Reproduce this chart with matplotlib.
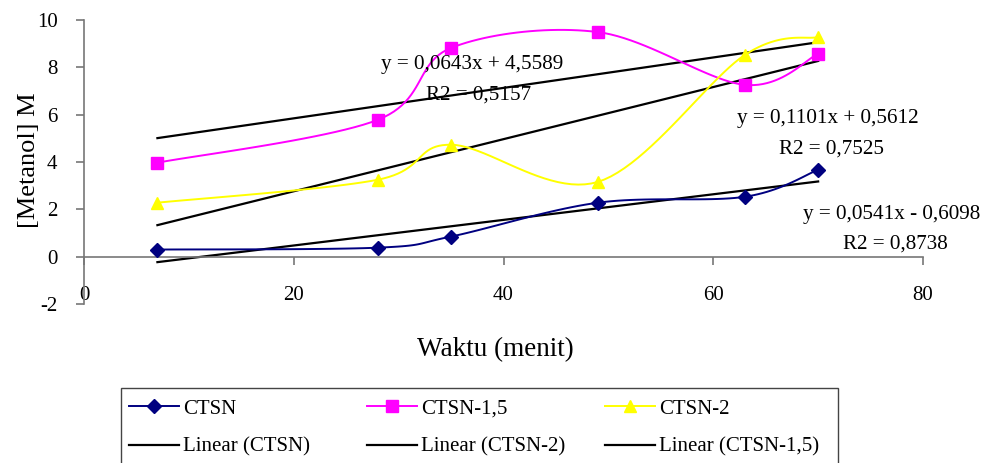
import matplotlib
matplotlib.use("Agg")
import matplotlib.pyplot as plt
import numpy as np
from matplotlib.patches import Rectangle

plt.rcParams["font.family"] = ["Liberation Serif", "DejaVu Serif"]
plt.rcParams["axes.unicode_minus"] = False

# sampling times (menit)
waktu = [7, 28, 35, 49, 63, 70]

ctsn = [0.30, 0.38, 0.85, 2.28, 2.53, 3.67]
ctsn_15 = [3.97, 5.78, 8.82, 9.49, 7.26, 8.57]
ctsn_2 = [2.28, 3.25, 4.73, 3.16, 8.52, 9.28]

# trendline coefficients (slope, intercept, R2) as printed on the chart
fit_ctsn = (0.0541, -0.6098, "0,8738")
fit_ctsn_2 = (0.1101, 0.5612, "0,7525")
fit_ctsn_15 = (0.0643, 4.5589, "0,5157")


def smooth(xs, ys, n=24):
    """Excel-style smoothed line (Catmull-Rom as cubic Bezier)."""
    p = np.column_stack([xs, ys]).astype(float)
    p = np.vstack([p[0], p, p[-1]])
    out = []
    t = np.linspace(0, 1, n)[:, None]
    for i in range(1, len(p) - 2):
        p0, p3 = p[i], p[i + 1]
        c1 = p0 + (p[i + 1] - p[i - 1]) / 6
        c2 = p3 - (p[i + 2] - p[i]) / 6
        seg = ((1 - t) ** 3 * p0 + 3 * (1 - t) ** 2 * t * c1
               + 3 * (1 - t) * t ** 2 * c2 + t ** 3 * p3)
        out.append(seg if i == 1 else seg[1:])
    out = np.vstack(out)
    return out[:, 0], out[:, 1]


fig = plt.figure(figsize=(9.82, 4.63), dpi=100)
ax = fig.add_axes([84 / 982, 1 - 304 / 463, 839 / 982, 284 / 463])

series = [
    ("CTSN", ctsn, "#000080", "D", 7, fit_ctsn),
    ("CTSN-1,5", ctsn_15, "#FF00FF", "s", 8.5, fit_ctsn_15),
    ("CTSN-2", ctsn_2, "#FFFF00", "^", 9, fit_ctsn_2),
]

handles = {}
for name, vals, color, mk, ms, fit in series:
    sx, sy = smooth(waktu, vals)
    ax.plot(sx, sy, color=color, lw=1.4, zorder=3)
    ax.plot(waktu, vals, ls="none", marker=mk, ms=ms, color=color, zorder=4)
    handles[name] = ax.plot([], [], color=color, lw=1.4, marker=mk, ms=ms)[0]
    xl = np.array([waktu[0], waktu[-1]])
    handles["Linear (" + name + ")"] = ax.plot(
        xl, fit[0] * xl + fit[1], color="black", lw=1.6, zorder=2)[0]

ax.set_xlim(0, 80)
ax.set_ylim(-2, 10)
ax.set_xticks([0, 20, 40, 60, 80])
ax.set_yticks(range(-2, 11, 2))

for s in ["top", "right"]:
    ax.spines[s].set_visible(False)
ax.spines["bottom"].set_position(("data", 0))
for s in ["bottom", "left"]:
    ax.spines[s].set_color("#777777")
    ax.spines[s].set_linewidth(1.2)
ax.tick_params(axis="x", direction="out", length=6, width=1.2, color="#777777",
               pad=15, labelsize=15)
ax.tick_params(axis="y", direction="out", length=6, width=1.2, color="#777777",
               pad=13, labelsize=15)

ax.set_xlabel("Waktu (menit)", fontsize=19.5)
ax.xaxis.set_label_coords(0.49, -0.118)
ax.set_ylabel("[Metanol] M", fontsize=19)
ax.yaxis.set_label_coords(-0.052, 0.507)

# trendline equations
eq_style = dict(fontsize=15.2, ha="center", va="center", clip_on=False)
for (a, b, r2), (x1, y1), (x2, y2) in [
    (fit_ctsn_15, (37.0, 8.10), (37.6, 6.84)),
    (fit_ctsn_2, (70.9, 5.82), (71.3, 4.56)),
    (fit_ctsn, (77.0, 1.77), (77.4, 0.55)),
]:
    sign = "+" if b >= 0 else "-"
    eq = f"y = {a:.4f}x {sign} {abs(b):.4f}".replace(".", ",")
    ax.text(x1, y1, eq, **eq_style)
    ax.text(x2, y2, f"R2 = {r2}", **eq_style)

# legend box (Excel style, cut off by bottom edge)
fig.patches.append(Rectangle((121 / 982, -0.02), (838 - 121) / 982, 0.02 + 1 - 388 / 463,
                             transform=fig.transFigure, fill=False,
                             edgecolor="#444444", lw=1.0))
columns = [
    (129, ["CTSN", "Linear (CTSN)"]),
    (367, ["CTSN-1,5", "Linear (CTSN-2)"]),
    (605, ["CTSN-2", "Linear (CTSN-1,5)"]),
]
for x0, labels in columns:
    fig.legend([handles[k] for k in labels], labels, frameon=False,
               loc="upper left", bbox_to_anchor=(x0 / 982, 1 - 399 / 463),
               borderaxespad=0, borderpad=0, fontsize=15,
               handlelength=2.4, handletextpad=0.2, labelspacing=0.9)

fig.savefig("out.png", dpi=100)
